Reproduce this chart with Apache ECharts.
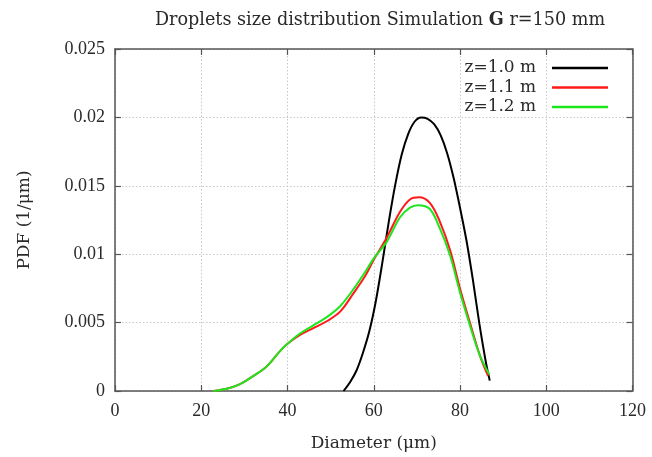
<!DOCTYPE html>
<html>
<head>
<meta charset="utf-8">
<script src="https://cdn.jsdelivr.net/npm/echarts@6/dist/echarts.min.js"></script>
<style>
html,body{margin:0;padding:0;background:#fff;}
#chart{width:652px;height:457px;}
</style>
</head>
<body>
<div id="chart"></div>
<script>
// ---- data ----
const seriesNames = ['z=1.0 m', 'z=1.1 m', 'z=1.2 m'];

const diamZ10 = [53, 54.5, 56, 57.5, 59, 60.5, 62, 63.5, 65, 66.5, 68, 69.5, 71, 72.5, 74, 75.5, 77, 78.5, 80, 81.5, 83, 84.5, 86, 86.9];
const pdfZ10  = [0, 0.00064, 0.0015, 0.0028, 0.0044, 0.0066, 0.0094, 0.0124, 0.0151, 0.0173, 0.0188, 0.0197, 0.02, 0.0199, 0.0195, 0.0187, 0.0174, 0.0156, 0.0134, 0.011, 0.0081, 0.0049, 0.0021, 0.00076];

const diamZ11 = [22.8, 25.9, 29, 32.1, 35.2, 38.2, 40, 42.9, 46, 49.1, 52.2, 55.2, 58, 60, 63, 66.1, 68.4, 70.5, 73, 75.3, 77.7, 80, 82.3, 84.6, 86.5];
const pdfZ11  = [0, 0.00016, 0.0005, 0.0011, 0.0018, 0.0029, 0.00345, 0.0041, 0.0046, 0.0051, 0.0058, 0.0071, 0.0084, 0.0096, 0.0112, 0.0131, 0.014, 0.01416, 0.01375, 0.0124, 0.0103, 0.0075, 0.005, 0.0026, 0.0011];

const diamZ12 = [22.8, 25.9, 29, 32.1, 35.2, 38.2, 40, 42.9, 46, 49.1, 52.2, 55.2, 58, 60, 63, 66.1, 68.4, 70.3, 73, 75.3, 77.7, 80, 82.3, 84.6, 86.8];
const pdfZ12  = [0, 0.00016, 0.0005, 0.0011, 0.0018, 0.0029, 0.00345, 0.0042, 0.0048, 0.0054, 0.0062, 0.0074, 0.0087, 0.0097, 0.0109, 0.0127, 0.0134, 0.01358, 0.0133, 0.0119, 0.0099, 0.0072, 0.0048, 0.0026, 0.0012];

const xTickLabels = ['0', '20', '40', '60', '80', '100', '120'];
const yTickLabels = ['0', '0.005', '0.01', '0.015', '0.02', '0.025'];

// ---- chart ----
const NUM_FONT = '"Liberation Serif", "DejaVu Serif", serif';
const TXT_FONT = '"DejaVu Serif", "Liberation Serif", serif';
const AXIS_COLOR = '#555';
const TEXT_COLOR = '#2a2a2a';

function pairs(xs, ys) { return xs.map((x, i) => [x, ys[i]]); }

const chart = echarts.init(document.getElementById('chart'), null, {renderer: 'canvas'});

const baseX = {
  type: 'value', min: 0, max: 120, interval: 20,
  axisLine: {show: true, onZero: false, lineStyle: {color: AXIS_COLOR, width: 1.5}},
  axisTick: {show: true, inside: true, length: 6, lineStyle: {color: AXIS_COLOR, width: 1.2}},
};
const baseY = {
  type: 'value', min: 0, max: 0.025, interval: 0.005,
  axisLine: {show: true, onZero: false, lineStyle: {color: AXIS_COLOR, width: 1.5}},
  axisTick: {show: true, inside: true, length: 6, lineStyle: {color: AXIS_COLOR, width: 1.2}},
};

chart.setOption({
  animation: false,
  backgroundColor: '#fff',
  title: {
    text: '{a|Droplets size distribution Simulation }{b|G}{a| r=150 mm}',
    left: 375, top: 6, textAlign: 'center',
    textStyle: {
      fontWeight: 'normal',
      rich: {
        a: {fontFamily: TXT_FONT, fontSize: 17.6, fontWeight: 'normal', color: TEXT_COLOR},
        b: {fontFamily: TXT_FONT, fontSize: 17.6, fontWeight: 'bold', color: TEXT_COLOR}
      }
    }
  },
  grid: {left: 115, right: 19.5, top: 49, bottom: 61.5, containLabel: false},
  legend: {
    orient: 'vertical', right: 39, top: 53.5, align: 'right',
    icon: 'rect', itemWidth: 56, itemHeight: 2.5, itemGap: 0.5,
    data: seriesNames,
    formatter: n => n + '  ',
    textStyle: {fontFamily: TXT_FONT, fontSize: 17, lineHeight: 19, color: TEXT_COLOR}
  },
  xAxis: [
    Object.assign({}, baseX, {
      position: 'bottom',
      name: 'Diameter (μm)', nameLocation: 'middle', nameGap: 44,
      nameTextStyle: {fontFamily: TXT_FONT, fontSize: 17, color: TEXT_COLOR},
      axisLabel: {margin: 11, fontFamily: NUM_FONT, fontSize: 18, color: TEXT_COLOR,
        formatter: v => xTickLabels[Math.round(v / 20)]},
      splitLine: {show: true, lineStyle: {color: '#c8c8c8', type: [1.5, 2], width: 1}}
    }),
    Object.assign({}, baseX, {
      position: 'top', axisLabel: {show: false}, splitLine: {show: false}
    })
  ],
  yAxis: [
    Object.assign({}, baseY, {
      position: 'left',
      name: 'PDF (1/μm)', nameLocation: 'middle', nameGap: 82,
      nameTextStyle: {fontFamily: TXT_FONT, fontSize: 17, color: TEXT_COLOR},
      axisLabel: {margin: 10, fontFamily: NUM_FONT, fontSize: 18, color: TEXT_COLOR,
        formatter: v => yTickLabels[Math.round(v / 0.005)]},
      splitLine: {show: true, lineStyle: {color: '#c8c8c8', type: [1.5, 2], width: 1}}
    }),
    Object.assign({}, baseY, {
      position: 'right', axisLabel: {show: false}, splitLine: {show: false}
    })
  ],
  series: [
    {name: seriesNames[0], type: 'line', data: pairs(diamZ10, pdfZ10), smooth: 0.3,
     symbol: 'none', lineStyle: {color: '#000', width: 2}, itemStyle: {color: '#000'}, z: 3},
    {name: seriesNames[1], type: 'line', data: pairs(diamZ11, pdfZ11), smooth: 0.35,
     symbol: 'none', lineStyle: {color: '#ff1a1a', width: 2}, itemStyle: {color: '#ff1a1a'}, z: 4},
    {name: seriesNames[2], type: 'line', data: pairs(diamZ12, pdfZ12), smooth: 0.35,
     symbol: 'none', lineStyle: {color: '#1ee61e', width: 2}, itemStyle: {color: '#1ee61e'}, z: 5}
  ]
});
</script>
</body>
</html>
